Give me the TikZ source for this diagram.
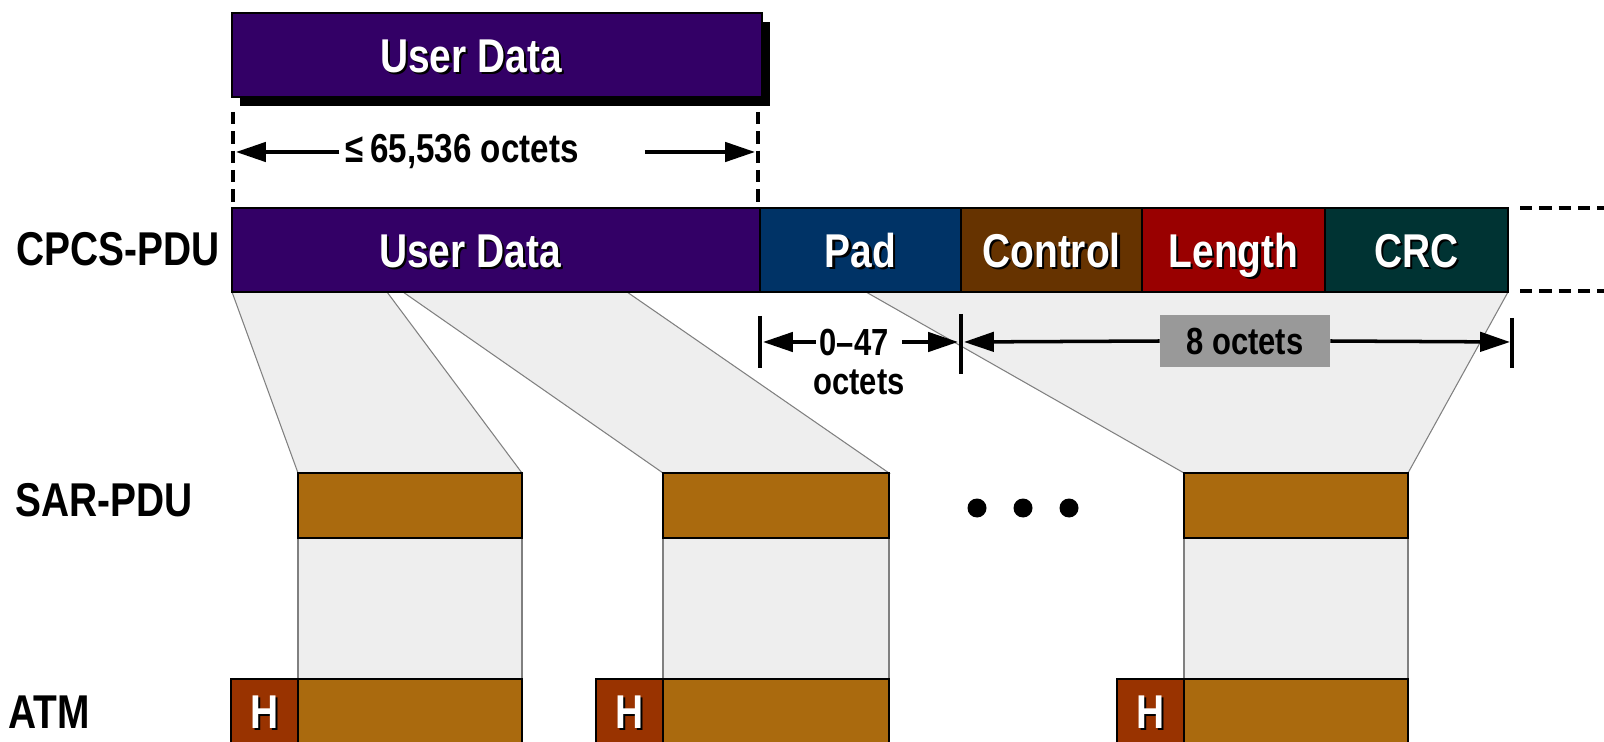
\documentclass[tikz,border=0pt]{standalone}
\usepackage{fontspec}
\setmainfont{Liberation Sans}[FakeStretch=0.82]
\usetikzlibrary{arrows.meta,positioning,calc,shadows,backgrounds}
\definecolor{udpurple}{RGB}{51,0,102}
\definecolor{padblue}{RGB}{0,51,102}
\definecolor{ctlbrown}{RGB}{102,51,0}
\definecolor{lenred}{RGB}{153,0,0}
\definecolor{crcteal}{RGB}{0,51,51}
\definecolor{sarochre}{RGB}{170,106,14}
\definecolor{hdrrust}{RGB}{153,51,0}
\definecolor{funnelgray}{RGB}{238,238,238}
\definecolor{edgegray}{RGB}{128,128,128}
\definecolor{lenboxgray}{RGB}{153,153,153}
\newcommand{\pxu}{0.02cm}
\newcommand{\bigtxt}{\fontsize{27}{32}\selectfont\bfseries}
\newcommand{\midtxt}{\fontsize{23}{27}\selectfont\bfseries}
\newcommand{\smalltxt}{\fontsize{21.5}{25}\selectfont\bfseries}
\newcommand{\shadowtxt}[1]{\rlap{\kern1.3pt\raisebox{-1.3pt}{\color{black}#1}}{\color{white}#1}}
\tikzset{
  field/.style={draw=black, line width=1.4pt, inner sep=0pt, outer sep=0pt,
    minimum height=84*\pxu, font=\bigtxt, text height=19.4pt, text depth=0pt},
  wd/.style={minimum width=#1*\pxu},
  ht/.style={minimum height=#1*\pxu},
  funnel/.style={fill=funnelgray, draw=edgegray, line width=0.6pt},
  dim/.style={line width=2pt, -{Triangle[length=17pt,width=11pt]}},
  bar/.style={line width=2.2pt},
  guide/.style={line width=1.9pt, dash pattern=on 7pt off 4pt},
  lbl/.style={font=\bigtxt, inner sep=0pt},
  dotmark/.style={circle, fill=black, inner sep=0pt, minimum size=19*\pxu},
}

\begin{document}
\begin{tikzpicture}[x=0.02cm, y=-0.02cm]
  \useasboundingbox (0,0) rectangle (1604,742);

  % user data on its own
  \node[field, fill=udpurple, wd=530, anchor=north west,
    drop shadow={shadow xshift=0.16cm, shadow yshift=-0.18cm, opacity=1, fill=black}]
    (ud) at (232,13) {\shadowtxt{User Data}\kern1.04cm};

  % CPCS-PDU row
  \node[lbl, anchor=east] (lcpcs) at (220,249) {CPCS-PDU};
  \node[field, fill=udpurple, wd=528, anchor=north west] (cpud) at (232,208) {\shadowtxt{User Data}\kern1.04cm};
  \node[field, fill=padblue, wd=201, right=0pt of cpud] (pad) {\shadowtxt{Pad}};
  \node[field, fill=ctlbrown, wd=181, right=0pt of pad] (ctl) {\shadowtxt{Control}};
  \node[field, fill=lenred, wd=183, right=0pt of ctl] (len) {\shadowtxt{Length}};
  \node[field, fill=crcteal, wd=183, right=0pt of len] (crc) {\shadowtxt{CRC}};

  % SAR-PDU row
  \node[lbl, anchor=west] (lsar) at (15,500) {SAR-PDU};
  \node[field, fill=sarochre, wd=224, ht=65, anchor=north west] (sar1) at (298,473) {};
  \node[field, fill=sarochre, wd=226, ht=65, anchor=north west] (sar2) at (663,473) {};
  \node[field, fill=sarochre, wd=224, ht=65, anchor=north west] (sar3) at (1184,473) {};
  \foreach \i/\x in {1/977,2/1023,3/1069}
    \node[dotmark] (dot\i) at (\x,508) {};

  % ATM cells
  \node[lbl, anchor=west] (latm) at (8,712) {ATM};
  \node[field, fill=sarochre, wd=224, ht=65, anchor=north west] (atm1) at (298,679) {};
  \node[field, fill=hdrrust, wd=67, ht=65, left=0pt of atm1] (hdr1) {\shadowtxt{H}};
  \node[field, fill=sarochre, wd=226, ht=65, anchor=north west] (atm2) at (663,679) {};
  \node[field, fill=hdrrust, wd=67, ht=65, left=0pt of atm2] (hdr2) {\shadowtxt{H}};
  \node[field, fill=sarochre, wd=224, ht=65, anchor=north west] (atm3) at (1184,679) {};
  \node[field, fill=hdrrust, wd=67, ht=65, left=0pt of atm3] (hdr3) {\shadowtxt{H}};

  % funnels behind the boxes
  \begin{scope}[on background layer]
    \filldraw[funnel] (cpud.south west) -- (387,292) -- (sar1.north east) -- (sar1.north west) -- cycle;
    \filldraw[funnel] (403,292) -- (627,292) -- (sar2.north east) -- (sar2.north west) -- cycle;
    \filldraw[funnel] (866,292) -- (crc.south east) -- (sar3.north east) -- (sar3.north west) -- cycle;
    \filldraw[funnel] (sar1.south west) rectangle (atm1.north east);
    \filldraw[funnel] (sar2.south west) rectangle (atm2.north east);
    \filldraw[funnel] (sar3.south west) rectangle (atm3.north east);
  \end{scope}

  % length of user data
  \draw[guide] ($(ud.south west)+(1,15)$) -- ($(cpud.north west)+(1,-6)$);
  \draw[guide] ($(ud.south east)+(-4,15)$) -- ($(cpud.north east)+(-2,-6)$);
  \node[font=\midtxt] (udlen) at (462,152) {≤\,65,536 octets};
  \coordinate (udl) at (236,152);
  \coordinate (udr) at (755,152);
  \draw[dim] (udlen.west) -- (udl);
  \draw[dim] ($(udlen.east)+(60,0)$) -- (udr);

  % dashed continuation
  \coordinate (edgetop) at (1606,208);
  \coordinate (edgebot) at (1606,291);
  \draw[guide] ($(crc.north east)+(12,0)$) -- (edgetop);
  \draw[guide] ($(crc.south east)+(12,-1)$) -- (edgebot);

  % pad and trailer lengths
  \draw[bar] ($(pad.south west)+(0,24)$) -- ($(pad.south west)+(0,76)$);
  \draw[bar] ($(pad.south east)+(0,22)$) -- ($(pad.south east)+(0,82)$);
  \draw[bar] ($(crc.south east)+(4,26)$) -- ($(crc.south east)+(4,76)$);
  \node[font=\smalltxt, inner sep=2pt] (padlen) at (854,342) {0–47};
  \node[font=\smalltxt, inner sep=0pt] (padoct) at (859,382) {octets};
  \coordinate (padl) at (763,342);
  \coordinate (padr) at (958,342);
  \draw[dim] (padlen.west) -- (padl);
  \draw[dim] ($(padlen.east)+(10,0)$) -- (padr);
  \node[fill=lenboxgray, font=\smalltxt, inner sep=0pt, minimum width=170*\pxu,
    minimum height=52*\pxu] (trlen) at (1245,341) {8 octets};
  \coordinate (trl) at (964,342);
  \coordinate (trr) at (1510,342);
  \draw[dim] (trlen.west) -- (trl);
  \draw[dim] (trlen.east) -- (trr);
\end{tikzpicture}
\end{document}
